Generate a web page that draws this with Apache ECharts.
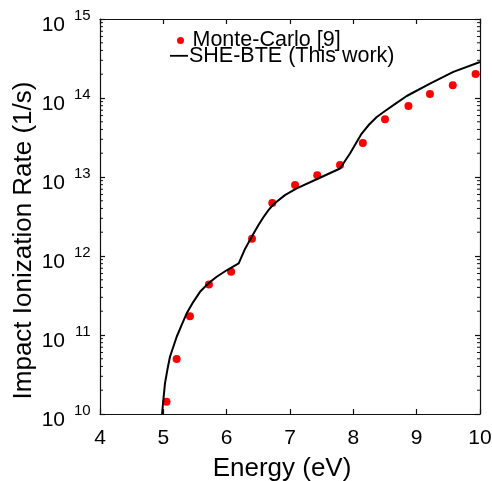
<!DOCTYPE html>
<html>
<head>
<meta charset="utf-8">
<script src="https://cdn.jsdelivr.net/npm/echarts@6/dist/echarts.min.js"></script>
<style>
  html, body { margin: 0; padding: 0; background: #fff; }
  #chart { width: 492px; height: 481px; }
</style>
</head>
<body>
<div id="chart"></div>
<script>
// Monte-Carlo reference points: energy (eV) and impact ionization rate (1/s)
const mcEnergy = [5.05, 5.21, 5.42, 5.72, 6.07, 6.40, 6.72, 7.08, 7.43, 7.79, 8.15, 8.50, 8.87, 9.21, 9.57, 9.93];
const mcRate = [1.43e10, 4.97e10, 1.73e11, 4.37e11, 6.3e11, 1.65e12, 4.7e12, 7.9e12, 1.05e13, 1.42e13, 2.7e13, 5.4e13, 7.9e13, 1.12e14, 1.45e14, 2.01e14];

// SHE-BTE curve
const bteEnergy = [4.98, 5.0, 5.026, 5.063, 5.105, 5.158, 5.211, 5.29, 5.369, 5.474, 5.579, 5.71, 5.843, 6.0, 6.19, 6.29, 6.40, 6.50, 6.58, 6.66, 6.74, 6.92, 7.106, 7.447, 7.79, 7.947, 8.132, 8.25, 8.37, 8.5, 8.65, 8.843, 9.21, 9.579, 10.0];
const bteRate = [1.0e10, 1.5e10, 2.44e10, 3.6e10, 5.3e10, 7.1e10, 9.5e10, 1.34e11, 1.88e11, 2.63e11, 3.52e11, 4.5e11, 5.46e11, 6.6e11, 8.05e11, 1.23e12, 1.78e12, 2.45e12, 3.09e12, 3.8e12, 4.52e12, 5.9e12, 7.16e12, 9.58e12, 1.28e13, 1.98e13, 3.55e13, 4.62e13, 5.75e13, 6.85e13, 8.3e13, 1.06e14, 1.52e14, 2.14e14, 2.86e14];

const seriesNames = ['Monte-Carlo [9]', 'SHE-BTE (This work)'];
const xTitle = 'Energy (eV)';
const yTitle = 'Impact Ionization Rate (1/s)';

const xMin = 4, xMax = 10, xStep = 1;
const yMin = 1e10, yMax = 1e15;

const FONT = '"Liberation Sans", Arial, Helvetica, sans-serif';

// minor log ticks (2..9 within each decade)
const minorTicks = [];
for (let d = Math.log10(yMin); d < Math.log10(yMax); d++) {
  for (let k = 2; k <= 9; k++) minorTicks.push([xMin, k * Math.pow(10, d)]);
}

const zip = (a, b) => a.map((v, i) => [v, b[i]]);

const axisLineStyle = { color: '#111', width: 1.2 };
const legendText = { fontFamily: FONT, fontSize: 21.5, color: '#000', lineHeight: 22 };

// log y axis shared settings
const logAxis = { type: 'log', logBase: 10, min: yMin, max: yMax, splitLine: { show: false } };

const chart = echarts.init(document.getElementById('chart'), null, { renderer: 'canvas' });

chart.setOption({
  backgroundColor: '#fff',
  animation: false,
  textStyle: { fontFamily: FONT },
  grid: { left: 100, right: 12, top: 19, bottom: 67, containLabel: false, outerBoundsMode: 'none' },
  legend: [{
    data: [{ name: seriesNames[0], icon: 'circle' }],
    orient: 'vertical',
    left: 177,
    top: 29.5,
    padding: 0,
    itemWidth: 14,
    itemHeight: 7,
    textStyle: legendText,
    selectedMode: false
  }, {
    data: [{ name: seriesNames[1], icon: 'path://M0,0H18V1.8H0Z' }],
    orient: 'vertical',
    left: 170,
    top: 44.8,
    padding: 0,
    itemWidth: 18,
    itemHeight: 8,
    textStyle: Object.assign({}, legendText, { padding: [0, 0, 0, -4] }),
    selectedMode: false
  }],
  xAxis: [{
    type: 'value',
    min: xMin, max: xMax, interval: xStep,
    position: 'bottom',
    name: xTitle,
    nameLocation: 'middle',
    nameGap: 42,
    nameTextStyle: { fontFamily: FONT, fontSize: 26, color: '#000', padding: [0, 16, 0, 0] },
    axisLine: { onZero: false, lineStyle: axisLineStyle },
    axisTick: { inside: true, length: 5, lineStyle: axisLineStyle },
    axisLabel: { fontFamily: FONT, fontSize: 21, lineHeight: 21, color: '#000', margin: 14 },
    splitLine: { show: false }
  }, {
    type: 'value',
    min: xMin, max: xMax, interval: xStep,
    position: 'top',
    axisLine: { onZero: false, lineStyle: axisLineStyle },
    axisTick: { inside: true, length: 5, lineStyle: axisLineStyle },
    axisLabel: { show: false },
    splitLine: { show: false }
  }],
  yAxis: [Object.assign({}, logAxis, {
    position: 'left',
    name: yTitle,
    nameLocation: 'middle',
    nameRotate: 90,
    nameGap: 63,
    nameMoveOverlap: false,
    nameTextStyle: { fontFamily: FONT, fontSize: 26, color: '#000', padding: [0, 48, 0, 0] },
    axisLine: { onZero: false, lineStyle: axisLineStyle },
    axisTick: { inside: true, length: 5, lineStyle: axisLineStyle },
    // mantissa "10" of each decade label, sitting slightly below its tick
    axisLabel: {
      margin: 35,
      formatter: () => '10',
      fontFamily: FONT, fontSize: 21, lineHeight: 11.6, color: '#000',
      verticalAlign: 'top'
    }
  }), Object.assign({}, logAxis, {
    position: 'right',
    axisLine: { onZero: false, lineStyle: axisLineStyle },
    axisTick: { inside: true, length: 5, lineStyle: axisLineStyle },
    axisLabel: { show: false }
  }), Object.assign({}, logAxis, {
    position: 'left',
    axisLine: { show: false },
    axisTick: { show: false },
    // decade exponent, raised as a superscript
    axisLabel: {
      margin: 9.4,
      formatter: v => String(Math.round(Math.log10(v))),
      fontFamily: FONT, fontSize: 15, lineHeight: 15, color: '#000',
      verticalAlign: 'bottom',
      padding: [0, 0, -4, 0]
    }
  })],
  series: [{
    name: seriesNames[0],
    type: 'scatter',
    xAxisIndex: 0, yAxisIndex: 0,
    data: zip(mcEnergy, mcRate),
    symbol: 'circle',
    symbolSize: 8,
    itemStyle: { color: '#ff0000', opacity: 1 },
    z: 3
  }, {
    name: seriesNames[1],
    type: 'line',
    xAxisIndex: 0, yAxisIndex: 0,
    data: zip(bteEnergy, bteRate),
    symbol: 'none',
    showSymbol: false,
    lineStyle: { color: '#000', width: 2 },
    itemStyle: { color: '#000' },
    clip: true,
    z: 4
  }, {
    name: 'minor-ticks',
    type: 'custom',
    xAxisIndex: 0, yAxisIndex: 0,
    silent: true,
    clip: false,
    data: minorTicks,
    renderItem: function (params, api) {
      const v = api.value(1);
      const l = api.coord([xMin, v]);
      const r = api.coord([xMax, v]);
      const s = { stroke: '#111', lineWidth: 1 };
      return {
        type: 'group',
        children: [
          { type: 'line', shape: { x1: l[0], y1: l[1], x2: l[0] + 3, y2: l[1] }, style: s },
          { type: 'line', shape: { x1: r[0], y1: r[1], x2: r[0] - 3, y2: r[1] }, style: s }
        ]
      };
    },
    z: 2
  }]
});
</script>
</body>
</html>
